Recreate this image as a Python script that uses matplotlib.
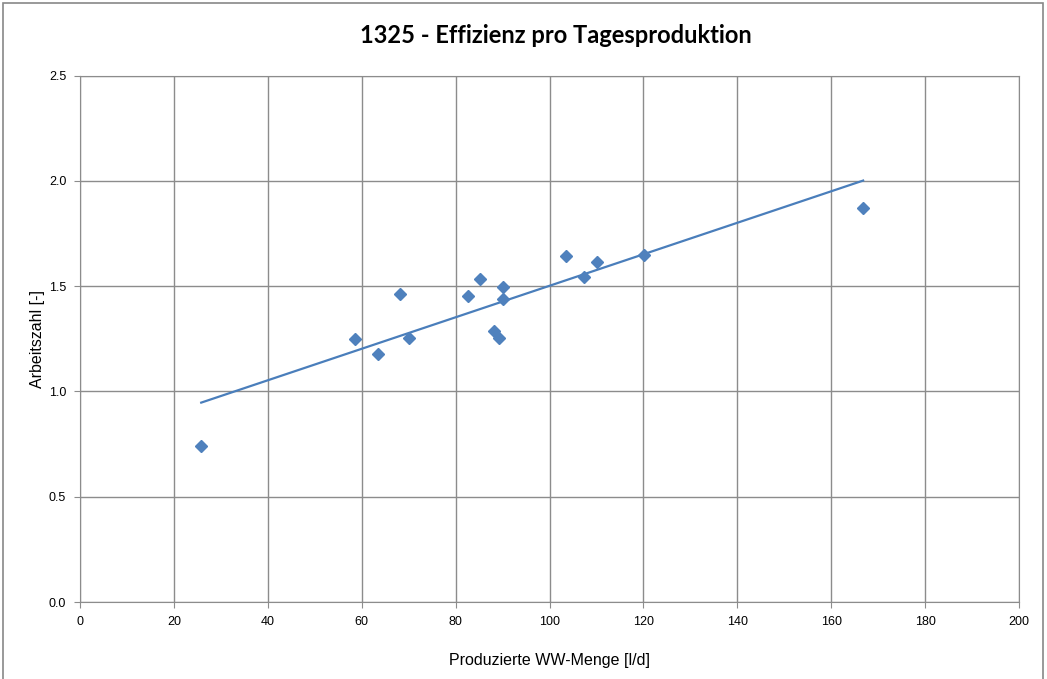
import matplotlib.pyplot as plt
import numpy as np
from matplotlib.patches import Rectangle

plt.rcParams['font.family'] = ['Liberation Sans Narrow', 'Liberation Sans', 'DejaVu Sans']

# Produzierte WW-Menge [l/d] vs. Arbeitszahl [-]
menge = np.array([25.8, 58.6, 63.5, 68.2, 70.1, 82.7, 85.2, 88.1, 89.2, 90.1, 90.1,
                  103.5, 107.3, 110.1, 120.1, 166.8])
arbeitszahl = np.array([0.743, 1.250, 1.179, 1.464, 1.255, 1.452, 1.536, 1.289, 1.252,
                        1.496, 1.437, 1.645, 1.542, 1.615, 1.650, 1.873])

x_ticks = np.arange(0, 201, 20)
y_ticks = np.arange(0, 2.51, 0.5)

fig = plt.figure(figsize=(10.47, 6.79), dpi=100)
fig.patches.append(Rectangle((3 / 1047, -0.01), 1040 / 1047, 1 - 3 / 679 + 0.01,
                             transform=fig.transFigure, fill=False,
                             edgecolor='#888888', linewidth=1.2))
ax = fig.add_axes([80.1 / 1047, 1 - 602.1 / 679, (1019 - 80.1) / 1047, (602.1 - 75.5) / 679])

# Trendlinie (linear)
m, b = np.polyfit(menge, arbeitszahl, 1)
xl = np.array([menge.min(), menge.max()])
ax.plot(xl, m * xl + b, color='#4A7EBB', linewidth=1.6, zorder=3)
ax.plot(menge, arbeitszahl, linestyle='none', marker='D', markersize=6.5,
        color='#4F81BD', markeredgecolor='#4F81BD', zorder=4)

ax.set_xlim(0, 200)
ax.set_ylim(0, 2.5)
ax.set_xticks(x_ticks)
ax.set_yticks(y_ticks)
ax.set_yticklabels([f'{v:.1f}' for v in y_ticks])
ax.grid(True, color='#8C8C8C', linewidth=1.0)
ax.set_axisbelow(True)
for s in ax.spines.values():
    s.set_color('#8C8C8C')
ax.tick_params(colors='#8C8C8C', labelcolor='black', labelsize=9, length=4, pad=6)

ax.set_xlabel('Produzierte WW-Menge [l/d]', fontsize=11.5, labelpad=18)
ax.set_ylabel('Arbeitszahl [-]', fontsize=11.5, labelpad=3)
fig.text(0.531, 0.947, '1325 - Effizienz pro Tagesproduktion', ha='center', va='center',
         fontsize=17, fontweight='bold', family=['Lato', 'DejaVu Sans'])

fig.savefig('out.png', dpi=100)
